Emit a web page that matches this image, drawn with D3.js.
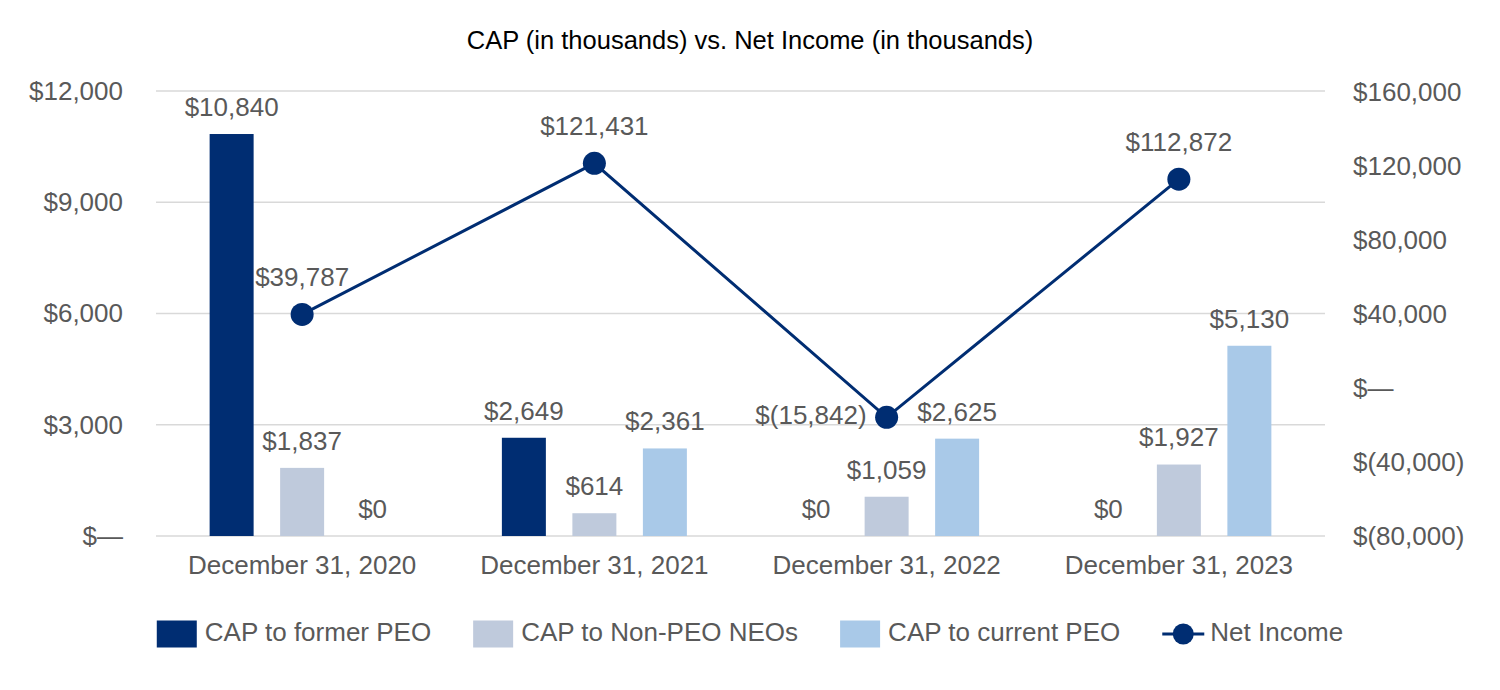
<!DOCTYPE html>
<html lang="en">
	<head>
		<meta charset="UTF-8">
		<title>CAP vs. Net Income</title>
		<script src="https://d3js.org/d3.v7.min.js"></script>
		<style>
			body {
				margin: 0;
				background: white;
			}

			text {
				font-family: "Liberation Sans", Arial, sans-serif;
			}

			.label, .tick text, .legend text {
				fill: #595959;
				font-size: 26px;
			}

			.grid line {
				stroke: #d9d9d9;
				stroke-width: 1.5;
			}
		</style>
	</head>
	<body>
		<svg id="chart" width="1500" height="690"></svg>
		<script>
			const categories = ["December 31, 2020", "December 31, 2021", "December 31, 2022", "December 31, 2023"]
			const seriesNames = ["CAP to former PEO", "CAP to Non-PEO NEOs", "CAP to current PEO"]
			const seriesColors = ["#002d72", "#bfcadc", "#a9c9e8"]
			const formerPeo = [10840, 2649, 0, 0]
			const nonPeoNeos = [1837, 614, 1059, 1927]
			const currentPeo = [0, 2361, 2625, 5130]
			const netIncomeName = "Net Income"
			const netIncome = [39787, 121431, -15842, 112872]
			const leftTicks = [0, 3000, 6000, 9000, 12000]
			const rightTicks = [-80000, -40000, 0, 40000, 80000, 120000, 160000]
			const lineColor = "#002d72"

			const series = [formerPeo, nonPeoNeos, currentPeo]

			const svg = d3.select("#chart")
			const comma = d3.format(",")

			function money(v) {
				if (v === 0) return "$\u2014"
				if (v < 0) return "$(" + comma(-v) + ")"
				return "$" + comma(v)
			}

			function moneyLabel(v) {
				if (v < 0) return "$(" + comma(-v) + ")"
				return "$" + comma(v)
			}

			const x = d3.scaleBand().domain(categories).range([156, 1325]).padding(0)
			const xInner = d3.scaleBand().domain(seriesNames).range([-105.75, 105.75]).paddingInner(0.376).paddingOuter(0.188)
			const yLeft = d3.scaleLinear().domain([0, 12000]).range([536, 91])
			const yRight = d3.scaleLinear().domain([-80000, 160000]).range([536, 92])

			// title
			svg.append("text")
				.attr("x", 750)
				.attr("y", 42)
				.attr("text-anchor", "middle")
				.attr("dominant-baseline", "middle")
				.attr("fill", "#000")
				.style("font-size", "25.5px")
				.text("CAP (in thousands) vs. Net Income (in thousands)")

			// gridlines
			svg.append("g")
				.classed("grid", true)
				.selectAll("line")
				.data(leftTicks)
				.join("line")
				.attr("x1", x.range()[0])
				.attr("x2", x.range()[1])
				.attr("y1", d => yLeft(d))
				.attr("y2", d => yLeft(d))

			// axes
			const leftAxis = svg.append("g")
				.attr("transform", "translate(123,0)")
				.call(d3.axisLeft(yLeft).tickValues(leftTicks).tickFormat(money).tickSize(0).tickPadding(0))
			const rightAxis = svg.append("g")
				.attr("transform", "translate(1353,0)")
				.call(d3.axisRight(yRight).tickValues(rightTicks).tickFormat(money).tickSize(0).tickPadding(0))
			const bottomAxis = svg.append("g")
				.attr("transform", "translate(0,553)")
				.call(d3.axisBottom(x).tickSize(0).tickPadding(0))
			for (const ax of [leftAxis, rightAxis, bottomAxis]) {
				ax.select(".domain").remove()
				ax.attr("font-family", null).attr("font-size", null)
			}
			bottomAxis.selectAll("text").attr("dy", null).attr("y", 14).attr("dominant-baseline", "middle")

			// bars
			const barData = []
			series.forEach(function (vals, si) {
				vals.forEach(function (v, ci) {
					barData.push({ cat: categories[ci], name: seriesNames[si], color: seriesColors[si], value: v })
				})
			})
			const cx = d => x(d.cat) + x.bandwidth() / 2 + xInner(d.name)

			svg.append("g")
				.selectAll("rect")
				.data(barData.filter(d => d.value > 0))
				.join("rect")
				.attr("x", d => cx(d))
				.attr("y", d => yLeft(d.value))
				.attr("width", xInner.bandwidth())
				.attr("height", d => yLeft(0) - yLeft(d.value))
				.attr("fill", d => d.color)

			svg.append("g")
				.selectAll("text")
				.data(barData)
				.join("text")
				.classed("label", true)
				.attr("x", d => cx(d) + xInner.bandwidth() / 2)
				.attr("y", d => yLeft(d.value) - 25)
				.attr("text-anchor", "middle")
				.attr("dominant-baseline", "middle")
				.text(d => moneyLabel(d.value))

			// net income line
			const lineData = netIncome.map((v, i) => ({ cat: categories[i], value: v }))
			const px = d => x(d.cat) + x.bandwidth() / 2
			svg.append("path")
				.datum(lineData)
				.attr("fill", "none")
				.attr("stroke", lineColor)
				.attr("stroke-width", 3)
				.attr("d", d3.line().x(px).y(d => yRight(d.value)))
			svg.append("g")
				.selectAll("circle")
				.data(lineData)
				.join("circle")
				.attr("cx", px)
				.attr("cy", d => yRight(d.value))
				.attr("r", 11.5)
				.attr("fill", lineColor)
			svg.append("g")
				.selectAll("text")
				.data(lineData)
				.join("text")
				.classed("label", true)
				.attr("x", d => d.value < 0 ? px(d) - 20 : px(d))
				.attr("y", d => d.value < 0 ? yRight(d.value) : yRight(d.value) - 35)
				.attr("text-anchor", d => d.value < 0 ? "end" : "middle")
				.attr("dominant-baseline", "middle")
				.text(d => moneyLabel(d.value))

			// legend
			const legendItems = seriesNames.map((n, i) => ({ name: n, color: seriesColors[i], type: "bar" }))
			legendItems.push({ name: netIncomeName, color: lineColor, type: "line" })
			const legend = svg.append("g").classed("legend", true)
			const items = legend.selectAll("g")
				.data(legendItems)
				.join("g")
			items.filter(d => d.type === "bar")
				.append("rect")
				.attr("x", 0)
				.attr("y", -13.5)
				.attr("width", 40)
				.attr("height", 27)
				.attr("fill", d => d.color)
			const lineItems = items.filter(d => d.type === "line")
			lineItems.append("line")
				.attr("x1", 0)
				.attr("x2", 42)
				.attr("y1", 0)
				.attr("y2", 0)
				.attr("stroke", d => d.color)
				.attr("stroke-width", 3)
			lineItems.append("circle")
				.attr("cx", 21)
				.attr("cy", 0)
				.attr("r", 10.5)
				.attr("fill", d => d.color)
			items.append("text")
				.attr("x", d => d.type === "bar" ? 48 : 48)
				.attr("y", 0)
				.attr("dominant-baseline", "middle")
				.text(d => d.name)

			let offset = 0
			const widths = []
			items.each(function () {
				widths.push(this.getBBox().width)
			})
			const gap = 42
			const total = d3.sum(widths) + gap * (widths.length - 1)
			let start = 750 - total / 2
			items.attr("transform", function (d, i) {
				const t = "translate(" + (start + offset) + ",634)"
				offset += widths[i] + gap
				return t
			})

			svg.node()
		</script>
	</body>
</html>
